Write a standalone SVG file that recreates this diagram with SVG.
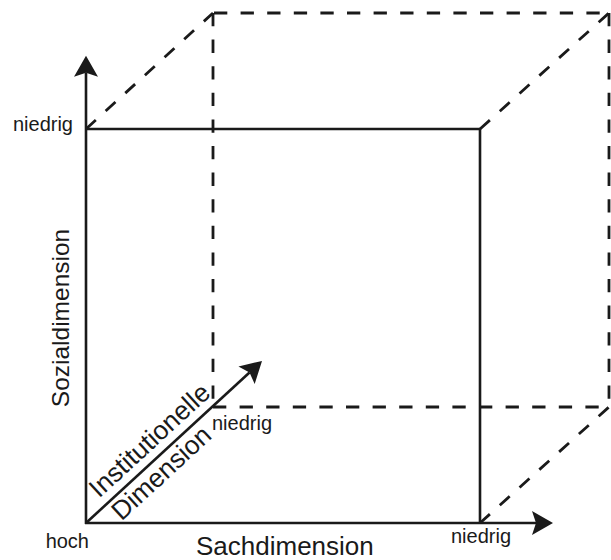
<svg xmlns="http://www.w3.org/2000/svg" width="611" height="560" viewBox="0 0 611 560">
  <style>
    .solid { stroke: #1a1a1a; stroke-width: 2.6; fill: none; }
    .dash { stroke: #1a1a1a; stroke-width: 2.8; fill: none; stroke-dasharray: 13.3 13.3; }
    .axis { stroke: #1a1a1a; stroke-width: 2.6; fill: none; marker-end: url(#arrow); }
    text { font-family: "Liberation Sans", Arial, sans-serif; fill: #1a1a1a; }
    .small { font-size: 20px; }
    .big { font-size: 26.3px; }
  </style>
  <defs>
    <marker id="arrow" viewBox="-5 -13 23 26" refX="0" refY="0" markerWidth="23" markerHeight="26" markerUnits="userSpaceOnUse" orient="auto">
      <path d="M17,0 L-4,-12 L0,0 L-4,12 Z" fill="#1a1a1a"/>
    </marker>
  </defs>
  <rect x="0" y="0" width="611" height="560" fill="#ffffff"/>

  <g id="back-face">
    <line class="dash" x1="213" y1="13" x2="609" y2="13" stroke-dashoffset="-1"/>
    <line class="dash" x1="213" y1="13" x2="213" y2="407"/>
    <line class="dash" x1="609" y1="13" x2="609" y2="407"/>
    <line class="dash" x1="213" y1="407" x2="609" y2="407"/>
  </g>

  <g id="depth-edges">
    <line class="dash" x1="86" y1="129" x2="213" y2="13"/>
    <line class="dash" x1="480" y1="129" x2="609" y2="13"/>
    <line class="dash" x1="480" y1="523" x2="609" y2="407"/>
  </g>

  <g id="front-face">
    <line class="solid" x1="86" y1="129" x2="480" y2="129"/>
    <line class="solid" x1="480" y1="129" x2="480" y2="523"/>
  </g>

  <g id="connectors">
    <line class="axis" x1="86" y1="524" x2="86" y2="72.7"/>
    <line class="axis" x1="85" y1="523" x2="536" y2="523"/>
    <line class="axis" x1="86" y1="523" x2="249.5" y2="372.5"/>
  </g>

  <g id="labels">
    <text class="small" x="73" y="131" text-anchor="end">niedrig</text>
    <text class="small" x="212" y="430">niedrig</text>
    <text class="small" x="481" y="543" text-anchor="middle">niedrig</text>
    <text class="small" x="89" y="548" text-anchor="end">hoch</text>
    <text class="big" x="196" y="554.5" style="font-size:26px">Sachdimension</text>
    <text class="big" style="font-size:24.5px" text-anchor="middle" transform="translate(69,318) rotate(-90)">Sozialdimension</text>
    <text class="big" text-anchor="middle" transform="translate(155.5,446.8) rotate(-42.6)">Institutionelle</text>
    <text class="big" text-anchor="middle" transform="translate(167.2,479.5) rotate(-42.6)">Dimension</text>
  </g>
</svg>
